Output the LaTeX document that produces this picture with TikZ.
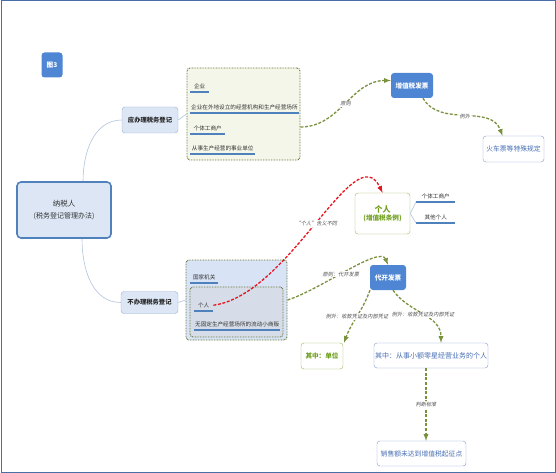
\documentclass[tikz,border=0pt]{standalone}
\usepackage{fontspec}
\setmainfont{Noto Sans CJK SC}
\newfontfamily\lblfont[FakeSlant=0.2]{Noto Sans CJK SC}
\usetikzlibrary{positioning,arrows}
\definecolor{topicblue}{RGB}{79,134,212}
\definecolor{palefill}{RGB}{220,230,244}
\definecolor{paleline}{RGB}{150,176,214}
\definecolor{rootline}{RGB}{79,129,189}
\definecolor{flowolive}{RGB}{122,145,62}
\definecolor{grpolive}{RGB}{104,120,60}
\definecolor{grpfill}{RGB}{244,246,233}
\definecolor{grpblue}{RGB}{217,227,246}
\definecolor{grpgrey}{RGB}{214,221,232}
\definecolor{ulineblue}{RGB}{79,129,189}
\definecolor{leafgreen}{RGB}{155,187,89}
\definecolor{leafgreentext}{RGB}{112,160,30}
\definecolor{leafblue}{RGB}{130,155,205}
\definecolor{leafbluetext}{RGB}{70,110,180}
\definecolor{redflow}{RGB}{230,20,30}
\definecolor{frameblue}{RGB}{74,110,168}
\definecolor{twig}{RGB}{175,195,222}
\definecolor{lblgrey}{RGB}{80,80,80}
\begin{document}
\begin{tikzpicture}[
x=1pt,y=1pt,
topic/.style={
  fill=topicblue,
  rounded corners=3pt,
  text=white,
  inner sep=0pt,
  font=\fontsize{6.6}{8}\selectfont\bfseries
  },
branch/.style={
  draw=paleline,
  fill=palefill,
  rounded corners=3pt,
  inner sep=0pt,
  text=black!85,
  font=\fontsize{6.3}{8}\selectfont\bfseries
  },
root/.style={
  draw=rootline,
  line width=1.6pt,
  fill=palefill,
  rounded corners=4pt,
  align=center,
  text=black!80,
  inner sep=0pt
  },
group/.style={
  draw=grpolive,
  line width=0.9pt,
  dash pattern=on 0.8pt off 0.8pt,
  rounded corners=3pt,
  inner sep=0pt
  },
item/.style={
  anchor=south west,
  inner xsep=1pt,
  inner ysep=3pt,
  text=black!80,
  font=\fontsize{5.6}{6}\selectfont
  },
uline/.style={
  draw=ulineblue,
  line width=1.4pt
  },
leafb/.style={
  draw=leafblue,
  fill=white,
  rounded corners=3pt,
  text=leafbluetext,
  inner sep=0pt,
  font=\fontsize{6.8}{8}\selectfont
  },
leafg/.style={
  draw=leafgreen,
  fill=white,
  rounded corners=3pt,
  text=leafgreentext,
  align=center,
  inner sep=0pt,
  font=\fontsize{6.6}{8}\selectfont\bfseries
  },
flow/.style={
  draw=flowolive,
  line width=1.3pt,
  dash pattern=on 3pt off 1.6pt,
  ->
  },
red/.style={
  draw=redflow,
  line width=1.3pt,
  dash pattern=on 3pt off 1.6pt,
  ->
  },
lbl/.style={
  fill=white,
  inner sep=0.6pt,
  text=lblgrey,
  font=\lblfont\fontsize{5.2}{6}\selectfont
  },
twig/.style={
  draw=twig,
  line width=0.6pt
  },
>=latex
]
\useasboundingbox (0,0) rectangle (556,-473);
\draw[frameblue,line width=1pt] (1,-1) rectangle (555,-472);

\node[topic, minimum width=21, minimum height=25] (fig) at (52,-65) {图3};
\node[root, minimum width=94, minimum height=56] (root) at (64,-210)
  {{\fontsize{7.5}{15}\selectfont 纳税人}\\{\fontsize{7}{9}\selectfont (税务登记管理办法)}};
\node[branch, minimum width=56, minimum height=26] (ying) at (150,-120) {应办理税务登记};
\node[branch, minimum width=57, minimum height=22] (bu) at (149.5,-302.5) {不办理税务登记};

\node[group, fill=grpfill, minimum width=113, minimum height=92] (g1) at (243.5,-114) {};
\foreach \nm/\txt/\yy/\ww in {qy/企业/92/19, jg/企业在外地设立的经营机构和生产经营场所/113/106, gt/个体工商户/134/35, sy/从事生产经营的事业单位/154/65}
{
  \node[item, minimum width=\ww] (\nm) at (190,-\yy) {\txt};
  \draw[uline] (\nm.south west) -- (\nm.south east);
}

\node[group, fill=grpblue, minimum width=101, minimum height=80] (g2) at (236.5,-300) {};
\node[group, fill=grpgrey, minimum width=93, minimum height=50] (g2in) at (236.5,-312) {};
\foreach \nm/\txt/\xx/\yy/\ww in {gj/国家机关/190/283/28, ge/个人/194/311/19, xf/无固定生产经营场所的流动小商贩/194/330/86}
{
  \node[item, minimum width=\ww] (\nm) at (\xx,-\yy) {\txt};
  \draw[uline] (\nm.south west) -- (\nm.south east);
}

\node[topic, minimum width=42, minimum height=25] (vat) at (412,-85.5) {增值税发票};
\node[leafb, minimum width=61, minimum height=26] (train) at (513.5,-149) {火车票等特殊规定};
\node[leafg, minimum width=55, minimum height=41] (ind) at (382.5,-213.5)
  {{\fontsize{8}{11}\selectfont 个人}\\(增值税条例)};
\foreach \nm/\txt/\yy in {gtp/个体工商户/202, qt/其他个人/223}
{
  \node[item, minimum width=39] (\nm) at (416,-\yy) {\txt};
  \draw[uline] (\nm.south west) -- (\nm.south east);
}
\node[topic, minimum width=36, minimum height=25] (dk) at (388,-277.5) {代开发票};
\node[leafg, minimum width=42, minimum height=26] (unit) at (322,-356) {其中：单位};
\node[leafb, minimum width=114, minimum height=25, font=\fontsize{7}{8}\selectfont] (pers) at (431,-355.5) {其中：从事小额零星经营业务的个人};
\node[leafb, minimum width=89, minimum height=25] (sales) at (421.5,-453.5) {销售额未达到增值税起征点};

\draw[twig] ([xshift=19pt]root.north) to[out=90,in=180] (ying.west);
\draw[twig] ([xshift=18pt]root.south) to[out=-90,in=180] (bu.west);
\draw[twig] (ying.east) -- (g1.west);
\draw[twig] (bu.east) -- (g2.west);
\draw[twig] (ind.east) -- (gtp.south west);
\draw[twig] (ind.east) -- (qt.south west);

\draw[flow] ([yshift=-13pt]g1.east) to[out=0,in=180] node[lbl] {原则} ([yshift=5pt]vat.west);
\draw[flow] ([xshift=11pt]vat.south) to[out=-60,in=110] node[lbl] {例外} ([xshift=-11pt]train.north);
\draw[red] (ge.east) .. controls (290,-295) and (355,-135) .. node[lbl] {“个人”含义不同} (ind.north);
\draw[flow] (g2.east) .. controls (320,-290) and (380,-245) .. node[lbl, pos=0.45] {原则：代开发票} (dk.north);
\draw[flow] ([xshift=-18pt]dk.south) to[out=-110,in=70] node[lbl] {例外：收款凭证及内部凭证} ([xshift=22pt]unit.north);
\draw[flow] ([xshift=5pt]dk.south) to[out=-55,in=90] node[lbl] {例外：收款凭证及内部凭证} ([xshift=10pt]pers.north);
\draw[flow] ([xshift=-5pt]pers.south) -- node[lbl] {判断标准} ([xshift=4.5pt]sales.north);
\end{tikzpicture}
\end{document}
